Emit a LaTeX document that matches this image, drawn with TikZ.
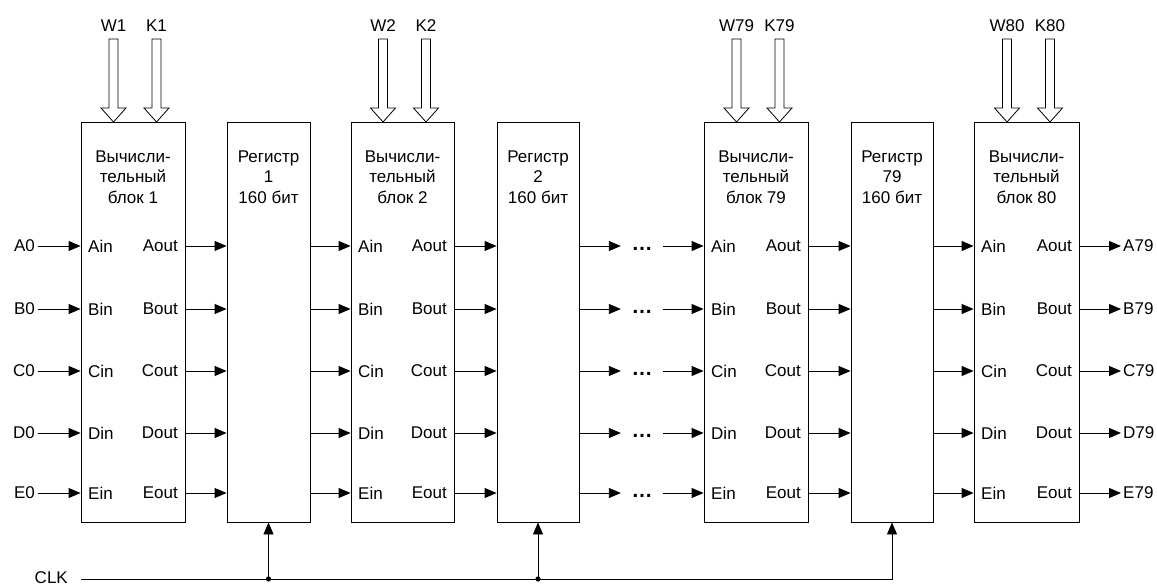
\documentclass[tikz,border=0pt]{standalone}
\usepackage{fontspec}
\setmainfont{Liberation Sans}
\usetikzlibrary{arrows.meta}
\begin{document}
\begin{tikzpicture}[x=1pt,y=-1pt, font=\fontsize{17}{20.5}\selectfont,
  blk/.style={draw, line width=0.9pt, inner sep=0pt, minimum height=400pt},
  conn/.style={line width=0.9pt, -{Triangle[length=12pt,width=10pt]}},
  lbl/.style={inner sep=0pt},
  fat/.style={draw, line width=0.8pt, fill=white, line join=miter}]
\useasboundingbox (0,0) rectangle (1157,585);

% blocks and registers
\node[blk, minimum width=104pt] (b1)  at (133,322) {};
\node[blk, minimum width=83pt]  (r1)  at (268.5,322) {};
\node[blk, minimum width=103pt] (b2)  at (402.5,322) {};
\node[blk, minimum width=82pt]  (r2)  at (538,322) {};
\node[blk, minimum width=104pt] (b79) at (756,322) {};
\node[blk, minimum width=82pt]  (r79) at (892,322) {};
\node[blk, minimum width=105pt] (b80) at (1026.5,322) {};

% titles
\node[lbl, align=center] (tb1)  at (133,177)    {Вычисли-\\тельный\\блок 1};
\node[lbl, align=center] (tr1)  at (268.5,177)  {Регистр\\1\\160 бит};
\node[lbl, align=center] (tb2)  at (402.5,177)  {Вычисли-\\тельный\\блок 2};
\node[lbl, align=center] (tr2)  at (538,177)    {Регистр\\2\\160 бит};
\node[lbl, align=center] (tb79) at (756,177)    {Вычисли-\\тельный\\блок 79};
\node[lbl, align=center] (tr79) at (892,177)    {Регистр\\79\\160 бит};
\node[lbl, align=center] (tb80) at (1026.5,177) {Вычисли-\\тельный\\блок 80};

% rows
\foreach \p/\y in {A/246,B/309,C/371,D/433,E/493} {
  \coordinate (row\p) at (0,\y);
  \node[lbl, anchor=east, inner sep=3pt] (in\p) at (38,\y) {\p0};
  \node[lbl, anchor=west, inner sep=2pt] (out\p) at (1121,\y) {\p79};
  \node[lbl, minimum width=42pt, font=\fontsize{21}{21}\selectfont\bfseries] (dots\p) at (642,\y+3) {…};
  \foreach \b/\bl/\br in {b1/81/185, b2/351/454, b79/704/808, b80/974/1079} {
    \node[lbl, anchor=west] (\b\p in) at (\bl+7,\y) {\p{}in};
    \node[lbl, anchor=east] (\b\p out) at (\br-7,\y) {\p{}out};
  }
  \draw[conn] (in\p.east) -- (b1.west |- row\p);
  \draw[conn] (b1.east |- row\p) -- (r1.west |- row\p);
  \draw[conn] (r1.east |- row\p) -- (b2.west |- row\p);
  \draw[conn] (b2.east |- row\p) -- (r2.west |- row\p);
  \draw[conn] (r2.east |- row\p) -- (dots\p.west |- row\p);
  \draw[conn] (dots\p.east |- row\p) -- (b79.west |- row\p);
  \draw[conn] (b79.east |- row\p) -- (r79.west |- row\p);
  \draw[conn] (r79.east |- row\p) -- (b80.west |- row\p);
  \draw[conn] (b80.east |- row\p) -- (out\p.west);
}

% hollow bus arrows with labels
\foreach \x/\t in {113.5/W1, 156.5/K1, 383/W2, 426/K2, 736.5/W79, 779.5/K79, 1007/W80, 1050/K80} {
  \draw[fat] (\x-4.5,39) -- (\x+4.5,39) -- (\x+4.5,108) -- (\x+12.5,108) -- (\x,122)
             -- (\x-12.5,108) -- (\x-4.5,108) -- cycle;
  \node[lbl] (lab\t) at (\x,26) {\t};
}

% clock
\node[lbl, anchor=east] (clk) at (68,577.5) {CLK};
\coordinate (clkstart) at (81,579);
\draw[conn] (clkstart) -- (clkstart -| r79.south) -- (r79.south);
\draw[conn] (clkstart -| r1.south) -- (r1.south);
\draw[conn] (clkstart -| r2.south) -- (r2.south);
\fill (clkstart -| r1.south) circle (2.6pt);
\fill (clkstart -| r2.south) circle (2.6pt);
\end{tikzpicture}
\end{document}
